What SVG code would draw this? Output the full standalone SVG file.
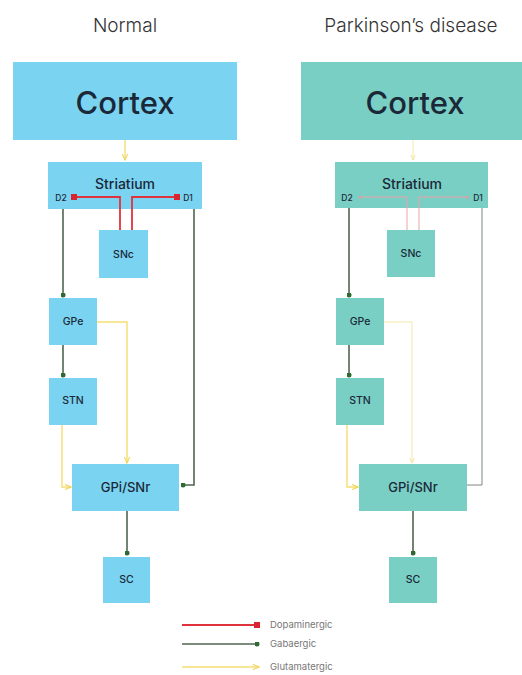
<svg xmlns="http://www.w3.org/2000/svg" width="522" height="675" viewBox="0 0 522 675">
<defs>
<style>
.bl{fill:#7AD3F0}
.tl{fill:#79CFC4}
.t{font-family:Inter,"Open Sans",sans-serif;fill:#1B2838;text-anchor:middle;dominant-baseline:central;font-weight:500}
.ttl{font-family:Inter,"Open Sans",sans-serif;fill:#333;font-size:19px;font-weight:300;text-anchor:middle}
.lg{font-family:Inter,"Open Sans",sans-serif;fill:#777;font-size:9.5px;dominant-baseline:central}
.g{stroke:#4F6650;stroke-width:1.6;fill:none}
.gt{stroke:#7C8A7C;stroke-width:1;fill:none}
.r{stroke:#E0323A;stroke-width:1.8;fill:none}
.rt{stroke:#EBA3A8;stroke-width:1;fill:none}
.y{stroke:#F5DE72;stroke-width:1.4;fill:none}
.yt{stroke:#F6E9A8;stroke-width:1;fill:none}
</style>
<marker id="dot" viewBox="0 0 10 10" refX="5" refY="5" markerWidth="5" markerHeight="5" markerUnits="userSpaceOnUse"><circle cx="5" cy="5" r="5" fill="#2F6A35"/></marker>
<marker id="sq" viewBox="0 0 10 10" refX="5" refY="5" markerWidth="6" markerHeight="6" markerUnits="userSpaceOnUse"><rect width="10" height="10" fill="#D9232E"/></marker>
<marker id="sqt" viewBox="0 0 10 10" refX="5" refY="5" markerWidth="3" markerHeight="3" markerUnits="userSpaceOnUse"><rect width="10" height="10" fill="#E59AA0"/></marker>
<marker id="ar" viewBox="0 0 10 10" refX="9" refY="5" markerWidth="7" markerHeight="7" markerUnits="userSpaceOnUse" orient="auto"><path d="M0,1 L9,5 L0,9" fill="none" stroke="#F0D45A" stroke-width="1.5"/></marker>
<marker id="art" viewBox="0 0 10 10" refX="9" refY="5" markerWidth="6" markerHeight="6" markerUnits="userSpaceOnUse" orient="auto"><path d="M0,1 L9,5 L0,9" fill="none" stroke="#F3E29A" stroke-width="1.5"/></marker>
</defs>
<rect width="522" height="675" fill="#fff"/>
<text class="ttl" x="125" y="32">Normal</text>
<text class="ttl" x="411" y="32">Parkinson’s disease</text>

<g id="cortex-normal"><rect class="bl" x="13" y="62" width="224" height="78"/><text class="t" x="125" y="102" font-size="31">Cortex</text></g>
<g id="striatium-normal"><rect class="bl" x="48" y="162" width="154" height="47"/><text class="t" x="125" y="183" font-size="14">Striatium</text><text class="t" x="61" y="198" font-size="8.5">D2</text><text class="t" x="188" y="198" font-size="8.5">D1</text></g>
<g id="snc-normal"><rect class="bl" x="99" y="230" width="49" height="48"/><text class="t" x="123.5" y="254" font-size="10.5">SNc</text></g>
<g id="gpe-normal"><rect class="bl" x="49" y="298" width="48" height="47"/><text class="t" x="73" y="321" font-size="10.5">GPe</text></g>
<g id="stn-normal"><rect class="bl" x="49" y="378" width="48" height="47"/><text class="t" x="73" y="400" font-size="10.5">STN</text></g>
<g id="gpi-normal"><rect class="bl" x="72" y="464" width="107" height="47"/><text class="t" x="125.5" y="487" font-size="13">GPi/SNr</text></g>
<g id="sc-normal"><rect class="bl" x="103" y="557" width="47" height="46"/><text class="t" x="126.5" y="579" font-size="10.5">SC</text></g>

<g id="cortex-pd"><rect class="tl" x="301" y="62" width="221" height="78"/><text class="t" x="415" y="102" font-size="31">Cortex</text></g>
<g id="striatium-pd"><rect class="tl" x="335" y="162" width="153" height="46"/><text class="t" x="412" y="183" font-size="14">Striatium</text><text class="t" x="347" y="198" font-size="8.5">D2</text><text class="t" x="478" y="198" font-size="8.5">D1</text></g>
<g id="snc-pd"><rect class="tl" x="387" y="230" width="48" height="47"/><text class="t" x="411" y="253" font-size="10.5">SNc</text></g>
<g id="gpe-pd"><rect class="tl" x="336" y="298" width="48" height="47"/><text class="t" x="360" y="321" font-size="10.5">GPe</text></g>
<g id="stn-pd"><rect class="tl" x="336" y="378" width="48" height="47"/><text class="t" x="360" y="400" font-size="10.5">STN</text></g>
<g id="gpi-pd"><rect class="tl" x="359" y="464" width="108" height="47"/><text class="t" x="413" y="487" font-size="13">GPi/SNr</text></g>
<g id="sc-pd"><rect class="tl" x="389" y="557" width="48" height="46"/><text class="t" x="413" y="579" font-size="10.5">SC</text></g>

<g id="connectors">
<!-- left -->
<line class="y" x1="125" y1="140" x2="125" y2="160" marker-end="url(#ar)"/>
<path class="r" d="M74,197 H120 V230" marker-start="url(#sq)"/>
<path class="r" d="M177,197 H132 V230" marker-start="url(#sq)"/>
<path class="g" d="M63,209 V295" marker-end="url(#dot)"/>
<path class="g" d="M63,345 V375" marker-end="url(#dot)"/>
<path class="y" d="M97,322 H127 V463" marker-end="url(#ar)"/>
<path class="y" d="M62,425 V487 H71" marker-end="url(#ar)"/>
<path class="g" d="M194,209 V485 H183" marker-end="url(#dot)"/>
<path class="g" d="M127,511 V553" marker-end="url(#dot)"/>
<!-- right -->
<line class="yt" x1="413" y1="140" x2="413" y2="160" marker-end="url(#art)"/>
<path class="rt" d="M360,197 H407 V230" marker-start="url(#sqt)"/>
<path class="rt" d="M467,197 H419 V230" marker-start="url(#sqt)"/>
<path class="g" d="M349,208 V295" marker-end="url(#dot)"/>
<path class="g" d="M349,345 V375" marker-end="url(#dot)"/>
<path class="yt" d="M384,322 H412 V463" marker-end="url(#art)"/>
<path class="y" d="M347,425 V487 H358" marker-end="url(#ar)"/>
<path class="gt" d="M482,208 V485 H467"/>
<path class="g" d="M413,511 V553" marker-end="url(#dot)"/>
<!-- legend -->
<line class="r" x1="182" y1="625" x2="257" y2="625" marker-end="url(#sq)"/>
<line class="g" x1="182" y1="644" x2="257" y2="644" marker-end="url(#dot)"/>
<line class="y" x1="182" y1="667" x2="259" y2="667" marker-end="url(#ar)"/>
</g>

<g id="legend">
<text class="lg" x="270" y="624">Dopaminergic</text>
<text class="lg" x="270" y="643">Gabaergic</text>
<text class="lg" x="270" y="666">Glutamatergic</text>
</g>
</svg>
